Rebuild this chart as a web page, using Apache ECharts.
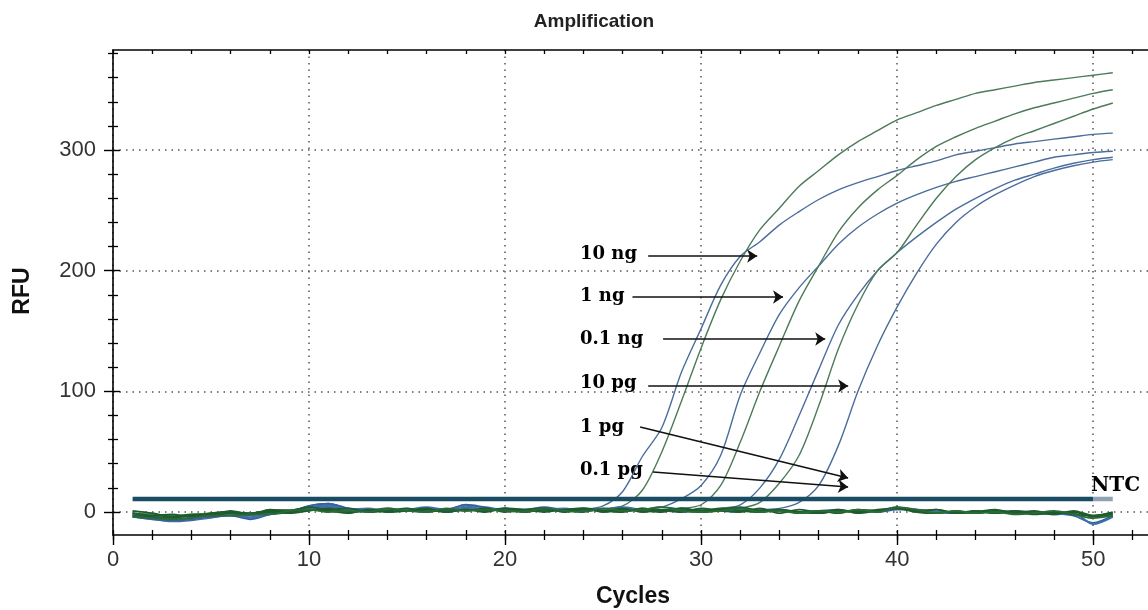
<!DOCTYPE html>
<html><head><meta charset="utf-8">
<script src="https://cdn.jsdelivr.net/npm/echarts@6/dist/echarts.min.js"></script>
<style>html,body{margin:0;padding:0;background:#fff}#c{width:1148px;height:610px}</style>
</head><body><div id="c"></div>
<script>
// ---------- data ----------
const cycles = [1,2,3,4,5,6,7,8,9,10,11,12,13,14,15,16,17,18,19,20,21,22,23,24,25,26,27,28,29,30,31,32,33,34,35,36,37,38,39,40,41,42,43,44,45,46,47,48,49,50,51];
const yTickValues = [0,100,200,300];
const yMinorValues = [20,40,60,80,120,140,160,180,220,240,260,280,320,340,360,380];
const thresholdCycles = [1,50,51];
const thresholdRFU = 10.8;

const rfu10ngBlue  = [-3,-5,-7,-6,-4,-2,-4,-1,1,4, 6,2,2,1,2,2,1,3,2,3, 2,2,1,2,5,17,46,70,116,152, 188,212,224,238,249,259,267,273,278,283, 287,291,296,299,302,305,307,309,311,313, 314];
const rfu10ngGreen = [-1,-2,-3,-3,-1,0,-1,1,1,2, 1,1,2,1,1,2,1,2,2,1, 2,1,2,2,3,5,18,50,92,136, 176,208,234,252,270,283,296,307,316,325, 331,337,342,347,350,353,356,358,360,362, 364];
const rfu1ngBlue   = [-4,-6,-8,-7,-5,-3,-5,-2,0,5, 7,3,2,1,3,2,2,6,3,2, 2,3,1,2,2,3,2,4,11,22, 47,97,132,164,186,204,222,236,247,256, 263,269,274,278,282,286,290,294,296,298, 299];
const rfu1ngGreen  = [-2,-3,-4,-3,-2,-1,-2,0,1,2, 2,1,1,2,1,2,1,2,1,2, 2,1,2,2,1,2,3,2,3,6, 22,58,100,138,175,204,232,252,267,279, 292,303,311,318,324,330,335,339,343,347, 350];
const rfu01ngBlue  = [-3,-4,-6,-5,-3,-2,-3,-1,0,3, 5,2,1,1,2,2,1,4,2,2, 1,2,1,2,1,2,3,1,0,1, 3,6,20,44,80,118,155,180,200,215, 228,240,251,260,268,275,280,285,289,292, 294];
const rfu01ngGreen = [-1,-2,-3,-2,-1,0,-1,1,2,2, 2,1,2,1,2,1,2,2,1,2, 2,1,2,1,2,1,2,2,1,2, 1,3,8,24,47,88,135,172,200,215, 238,260,278,292,302,310,316,322,328,334, 339];
const rfu10pgBlue  = [-2,-4,-5,-5,-3,-1,-2,0,1,3, 4,2,1,2,1,2,1,3,2,2, 1,2,2,1,2,1,2,2,1,2, 2,1,2,3,8,22,55,100,138,170, 198,222,240,253,263,271,278,283,287,290, 292];
const rfu1pgA      = [-1,-3,-2,-4,-1,0,-1,1,0,2, 1,-1,2,0,1,3,0,2,1,3, 0,2,1,3,1,0,3,1,3,0, 2,4,1,2,0,-1,1,0,2,3, 1,2,-1,1,-1,1,-1,0,-2,-3, -1];
const rfu1pgB      = [-3,-4,-5,-3,-3,-1,-2,0,-1,1, 3,0,1,3,1,2,0,2,0,3, 2,0,2,3,0,2,1,0,3,1, 3,1,0,2,-1,1,-1,2,1,4, 0,-1,1,-1,1,0,-2,-1,0,-4, -2];
const rfu01pgA     = [1,-1,-4,-2,-2,1,-2,2,1,4, 2,3,0,1,3,0,2,1,3,0, 2,3,0,2,1,3,0,2,0,3, 1,0,3,-1,2,0,2,-1,1,3, 0,2,-1,0,2,-1,1,-2,1,-3, 0];
const rfu01pgB     = [-4,-5,-6,-5,-3,-3,-2,-2,1,2, 0,1,0,3,1,0,3,1,2,1, 0,3,1,0,3,1,2,4,1,0, 1,3,0,1,-1,1,0,2,0,4, 2,-1,1,-1,0,-2,-1,1,-2,-5, -3];
const rfuNtcA      = [-4,-6,-7,-6,-4,-3,-6,-2,0,5, 7,3,2,1,2,2,2,6,4,2, 2,4,2,3,2,1,2,4,2,0, 2,3,1,1,0,-1,1,1,0,2, 2,0,-1,1,-1,1,0,-1,-3,-9, -3];
const rfuNtcB      = [-2,-3,-6,-5,-3,-2,-5,-1,1,4, 5,2,3,1,2,4,2,5,2,3, 1,2,3,1,2,4,2,1,3,1, 2,2,0,2,0,1,2,0,1,3, 2,0,0,-1,1,0,-1,-2,-1,-10, -4];

const sampleLabels = ['10 ng','1 ng','0.1 ng','10 pg','1 pg','0.1 pg'];

// ---------- styling / annotations ----------
const BLUE = '#4a6d9d', GREEN = '#4d7a58', DKGREEN = '#1d5c2b', DKBLUE = '#34609e';
const curves = [
  {name:'10 ng A', v:rfu10ngBlue, c:BLUE},
  {name:'10 ng B', v:rfu10ngGreen, c:GREEN},
  {name:'1 ng A', v:rfu1ngBlue, c:BLUE},
  {name:'1 ng B', v:rfu1ngGreen, c:GREEN},
  {name:'0.1 ng A', v:rfu01ngBlue, c:BLUE},
  {name:'0.1 ng B', v:rfu01ngGreen, c:GREEN},
  {name:'10 pg', v:rfu10pgBlue, c:BLUE},
  {name:'NTC A', v:rfuNtcA, c:DKBLUE},
  {name:'NTC B', v:rfuNtcB, c:'#3d6fb0'},
  {name:'1 pg A', v:rfu1pgA, c:DKGREEN},
  {name:'1 pg B', v:rfu1pgB, c:DKGREEN},
  {name:'0.1 pg A', v:rfu01pgA, c:DKGREEN},
  {name:'0.1 pg B', v:rfu01pgB, c:'#2a6b35'}
];
const arrowCoords = [
  [[27.3,212.1],[32.86,212.1]],
  [[26.5,178.2],[34.18,178.2]],
  [[28.06,143.4],[36.33,143.4]],
  [[27.3,104.4],[37.5,104.4]],
  [[26.89,70.4],[37.5,28.2]],
  [[27.55,33.1],[37.5,20.7]]
];
const labelPixelY = [254,296,339,383,427,470];

const FONT = "'Liberation Sans', Arial, sans-serif";
const SERIF = "'DejaVu Serif', 'Liberation Serif', serif";
const X_MIN = 0, X_MAX = 53, Y_MIN = -19.06, Y_MAX = 382.9;

const dotted = {color:'#555', width:1.5, type:[1.5,5]};
function xAx(extra){ return Object.assign({type:'value', min:X_MIN, max:X_MAX, gridIndex:0,
  axisLine:{show:false, onZero:false}, axisLabel:{show:false}, splitLine:{show:false}, axisTick:{show:false}}, extra); }
function yAx(extra){ return Object.assign({type:'value', min:Y_MIN, max:Y_MAX, gridIndex:0, position:'left',
  axisLine:{show:false, onZero:false}, axisLabel:{show:false}, splitLine:{show:false}, axisTick:{show:false}}, extra); }

const series = curves.map((cv, k) => ({
  name: cv.name, type:'line', xAxisIndex:0, yAxisIndex:0,
  data: cycles.map((c,i)=>[c, cv.v[i]]),
  showSymbol:false, smooth:0.3,
  lineStyle:{color:cv.c, width: k < 7 ? 1.4 : 1.8}, itemStyle:{color:cv.c}, silent:true, z:2
}));
series.push({
  name:'Threshold', type:'line', xAxisIndex:0, yAxisIndex:0,
  data: thresholdCycles.slice(0,2).map(c=>[c, thresholdRFU]),
  showSymbol:false, lineStyle:{color:'#1a4c64', width:4.5}, silent:true, z:4,
  markLine:{
    silent:true, symbol:['none','arrow'], symbolSize:10, animation:false,
    label:{show:false}, emphasis:{disabled:true},
    lineStyle:{color:'#111', width:1.6, type:'solid'},
    data: arrowCoords.map(a=>[{coord:a[0]},{coord:a[1]}])
  }
});
series.push({
  name:'Threshold end', type:'line', xAxisIndex:0, yAxisIndex:0,
  data: thresholdCycles.slice(1).map(c=>[c, thresholdRFU]),
  showSymbol:false, lineStyle:{color:'#8ea3b3', width:4.5}, silent:true, z:4
});

const graphic = [
  {type:'text', x:594, y:22, style:{text:'Amplification', font:"bold 19px "+FONT, fill:'#222', align:'center', verticalAlign:'middle'}},
  {type:'text', x:633, y:597, style:{text:'Cycles', font:"bold 23px "+FONT, fill:'#111', align:'center', verticalAlign:'middle'}},
  {type:'text', x:23, y:291, rotation:Math.PI/2, style:{text:'RFU', font:"bold 23px "+FONT, fill:'#111', align:'center', verticalAlign:'middle'}},
  {type:'text', x:1091, y:486, style:{text:'NTC', font:"bold 20px "+SERIF, fill:'#000', align:'left', verticalAlign:'middle'}}
].concat(sampleLabels.map((t,i)=>({type:'text', x:580, y:labelPixelY[i],
  style:{text:t, font:"bold 18px "+SERIF, fill:'#000', align:'left', verticalAlign:'middle'}})));

const option = {
  animation:false,
  backgroundColor:'#fff',
  grid:{left:113, top:50, width:1039, height:485, containLabel:false, outerBoundsMode:'none'},
  xAxis:[
    xAx({position:'bottom', interval:10,
      axisLine:{show:true, onZero:false, lineStyle:{color:'#000', width:1.6}},
      axisTick:{show:true, inside:false, length:10, lineStyle:{color:'#000', width:1.4}},
      axisLabel:{show:true, fontSize:22, fontFamily:FONT, color:'#333', margin:14, showMaxLabel:false,
        formatter:v=> (v%10===0 ? String(v) : '')},
      splitLine:{show:true, lineStyle:dotted}}),
    xAx({position:'bottom', interval:2, axisTick:{show:true, inside:false, length:5, lineStyle:{color:'#000', width:1.3}}}),
    xAx({position:'bottom', interval:2, axisTick:{show:true, inside:true, length:5, lineStyle:{color:'#000', width:1.3}}}),
    xAx({position:'top', interval:2,
      axisLine:{show:true, onZero:false, lineStyle:{color:'#000', width:1.6}},
      axisTick:{show:true, inside:true, length:4, lineStyle:{color:'#000', width:1.3}}})
  ],
  yAxis:[
    yAx({axisLine:{show:true, onZero:false, lineStyle:{color:'#000', width:1.6}},
      axisTick:{show:true, inside:false, length:9, customValues:yTickValues, lineStyle:{color:'#000', width:1.4}},
      axisLabel:{show:true, customValues:yTickValues, fontSize:22, fontFamily:FONT, color:'#333', margin:17,
        formatter:v=> String(v)},
      splitLine:{show:true, lineStyle:dotted}}),
    yAx({axisTick:{show:true, inside:true, length:7, customValues:yTickValues, lineStyle:{color:'#000', width:1.4}}}),
    yAx({axisTick:{show:true, inside:false, length:5, customValues:yMinorValues, lineStyle:{color:'#000', width:1.3}}}),
    yAx({axisTick:{show:true, inside:true, length:5, customValues:yMinorValues, lineStyle:{color:'#000', width:1.3}}})
  ],
  series: series,
  graphic: graphic
};
const chart = echarts.init(document.getElementById('c'), null, {renderer:'canvas'});
chart.setOption(option);
</script></body></html>
